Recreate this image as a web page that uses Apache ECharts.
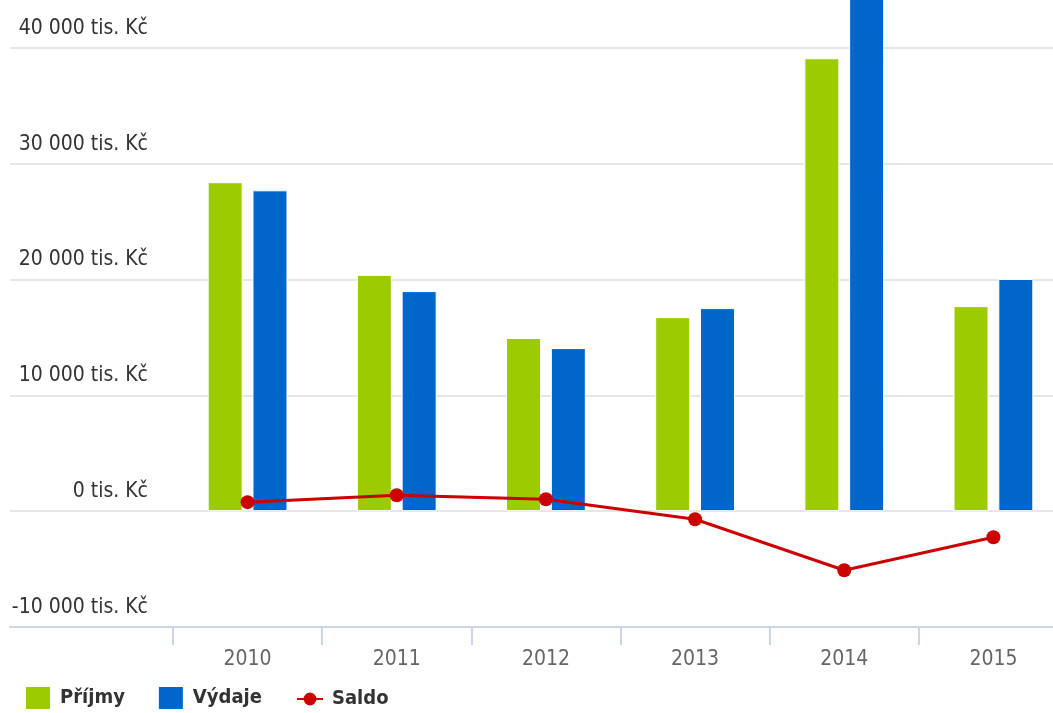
<!DOCTYPE html>
<html>
<head>
<meta charset="utf-8">
<script src="https://cdn.jsdelivr.net/npm/echarts@6/dist/echarts.min.js"></script>
<style>
html,body{margin:0;padding:0;background:#fff;}
#chart{width:1053px;height:713px;}
</style>
</head>
<body>
<div id="chart"></div>
<script>
const categories = ['2010', '2011', '2012', '2013', '2014', '2015'];
const prijmy = [28400, 20400, 14950, 16750, 39100, 17700];
const vydaje = [27700, 19000, 14080, 17530, 44250, 20050];
const saldo = [780, 1380, 1030, -700, -5100, -2250];
const yTicks = { min: -10000, max: 50000, interval: 10000 };

const FONT = '"DejaVu Sans Condensed", "Liberation Sans Narrow", sans-serif';

const chart = echarts.init(document.getElementById('chart'), null, { renderer: 'canvas' });

function fmt(v) {
  const s = String(Math.abs(v)).replace(/\B(?=(\d{3})+(?!\d))/g, ' ');
  return (v < 0 ? '-' : '') + s + ' tis. Kč';
}

const legendText = { color: '#333', fontFamily: FONT, fontSize: 20, fontWeight: 'bold', padding: [0, 0, 0, 4] };

chart.setOption({
  animation: false,
  backgroundColor: '#fff',
  grid: [
    { left: 10, right: 0, top: -68, bottom: 86, outerBoundsMode: 'none', containLabel: false },
    { left: 173, width: 895, top: -68, bottom: 86, outerBoundsMode: 'none', containLabel: false }
  ],
  xAxis: [
    {
      gridIndex: 0, type: 'value', min: 0, max: 1,
      axisLine: { show: true, onZero: false, lineStyle: { color: '#ccd6eb', width: 2 } },
      axisTick: { show: false }, axisLabel: { show: false }, splitLine: { show: false }
    },
    {
      gridIndex: 1, type: 'category', data: categories,
      axisLine: { show: true, onZero: false, lineStyle: { color: '#ccd6eb', width: 2 } },
      axisTick: { show: true, length: 18, lineStyle: { color: '#ccd6eb', width: 2 } },
      axisLabel: { color: '#666', fontFamily: FONT, fontSize: 21, margin: 22 }
    }
  ],
  yAxis: [
    {
      gridIndex: 0, type: 'value', min: yTicks.min, max: yTicks.max, interval: yTicks.interval,
      axisLine: { show: false }, axisTick: { show: false },
      splitLine: { show: true, lineStyle: { color: '#e6e6e6', width: 2 } },
      axisLabel: {
        inside: true, align: 'right', verticalAlign: 'bottom', margin: 138,
        padding: [0, 0, 9, 0],
        color: '#333', fontFamily: FONT, fontSize: 21,
        formatter: function (v) { return v >= yTicks.max ? '' : fmt(v); }
      }
    },
    {
      gridIndex: 1, type: 'value', min: yTicks.min, max: yTicks.max, interval: yTicks.interval,
      show: false, splitLine: { show: false }
    }
  ],
  legend: [
    {
      left: 19, top: 680, itemWidth: 26, itemHeight: 24, itemGap: 32,
      textStyle: legendText,
      data: [
        { name: 'Příjmy', icon: 'rect' },
        { name: 'Výdaje', icon: 'rect' }
      ]
    },
    {
      left: 291, top: 684, itemWidth: 26, itemHeight: 16,
      textStyle: legendText,
      data: [{ name: 'Saldo' }]
    }
  ],
  series: [
    {
      name: 'Příjmy', type: 'bar', xAxisIndex: 1, yAxisIndex: 1, data: prijmy,
      barWidth: 35, barGap: '28%',
      itemStyle: { color: '#9ccc00', borderColor: '#fff', borderWidth: 1 }
    },
    {
      name: 'Výdaje', type: 'bar', xAxisIndex: 1, yAxisIndex: 1, data: vydaje,
      barWidth: 35,
      itemStyle: { color: '#0066cc', borderColor: '#fff', borderWidth: 1 }
    },
    {
      name: 'Saldo', type: 'line', xAxisIndex: 1, yAxisIndex: 1, data: saldo,
      symbol: 'circle', symbolSize: 14, showAllSymbol: true,
      lineStyle: { color: '#cc0000', width: 3 },
      itemStyle: { color: '#cc0000' }
    }
  ]
});
</script>
</body>
</html>
